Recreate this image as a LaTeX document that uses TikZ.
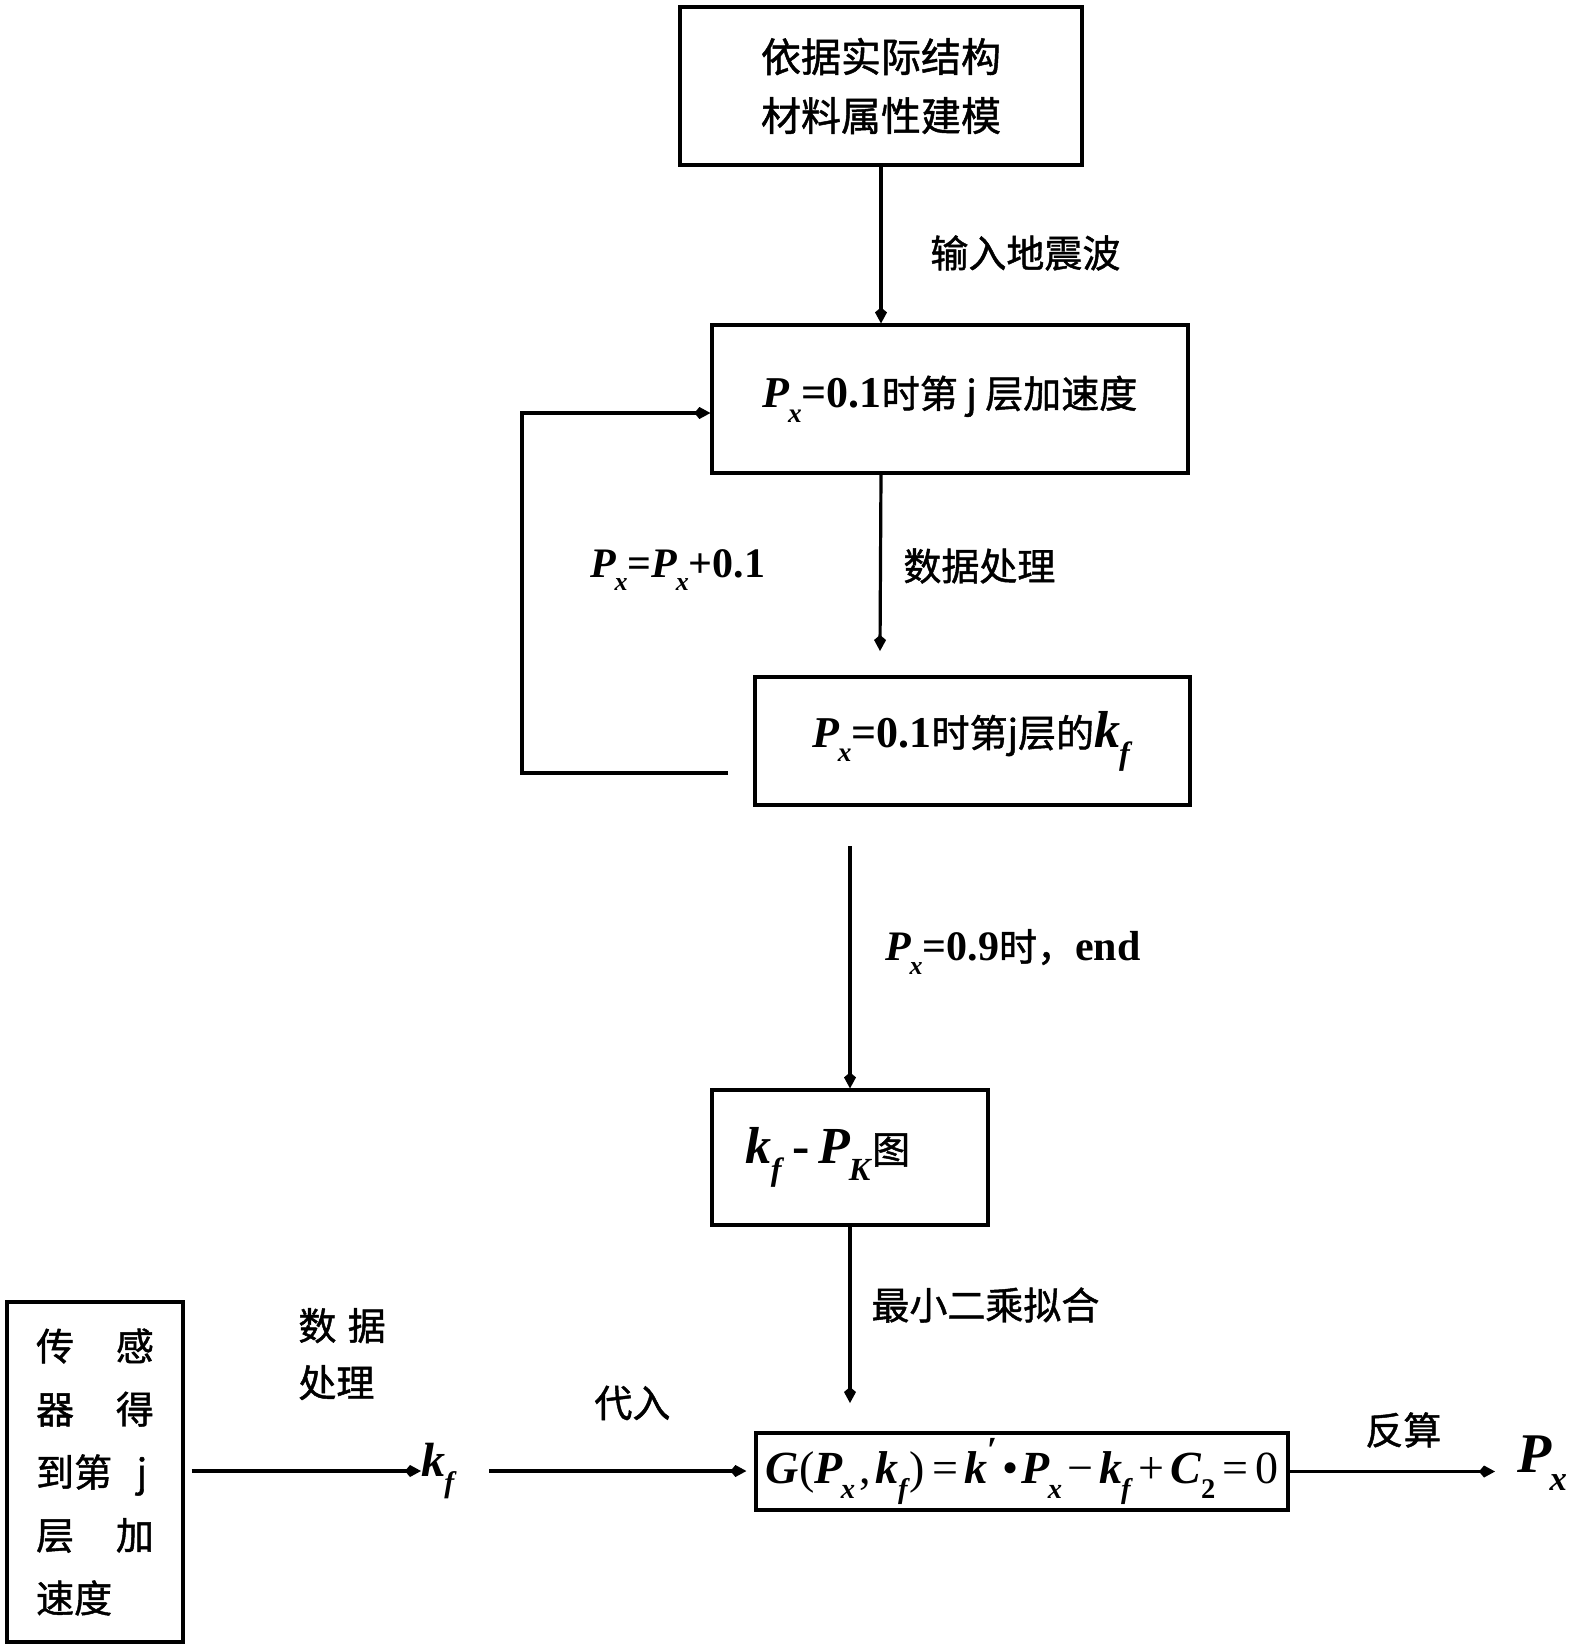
\documentclass[tikz,border=0pt]{standalone}
\usepackage{fontspec}
\setmainfont{Liberation Serif}
\newfontfamily\cjk{Noto Sans CJK SC}[FakeBold=1.2]
\usetikzlibrary{arrows.meta}
\newcommand\sbx[1]{\raisebox{-0.33em}{\scalebox{0.62}{\textbf{\textit{#1}}}}}
\newcommand\Pv[1]{{\rmfamily\textbf{\textit{P}}\kern-0.04em\sbx{#1}}}
\newcommand\kv{{\rmfamily\textbf{\textit{k}}\kern-0.02em\sbx{f}}}
\newcommand\bnum[1]{{\rmfamily\bfseries #1}}
\newcommand\fs[1]{\fontsize{#1}{#1}\selectfont}
\begin{document}
\begin{tikzpicture}[x=0.5pt,y=-0.5pt,
  every node/.style={font=\cjk\fs{19}},
  box/.style={draw, line width=1.6pt, inner sep=0pt, align=center},
  arr/.style={line width=1.6pt, -{Kite[length=8pt,width=6pt,inset=2.5pt]}},
  lbl/.style={anchor=west, inner sep=0pt}]
\useasboundingbox (0,0) rectangle (1571,1651);

% boxes
\node[box, minimum width=201pt, minimum height=79pt, font=\cjk\fontsize{20}{29.5}\selectfont] (b1) at (881,86) {依据实际结构\\材料属性建模};
\node[box, minimum width=238pt, minimum height=74pt] (b2) at (950,399)
  {{\fs{22}\Pv{x}\bnum{=0.1}}时第 j 层加速度};
\node[box, minimum width=217.5pt, minimum height=64pt] (b3) at (972.5,741)
  {{\fs{22}\Pv{x}\bnum{=0.1}}时第j层的{\fs{26}\kv}};
\node[box, minimum width=138pt, minimum height=67.5pt] (b4) at (850,1157.5)
  {\hspace*{-22pt}{\fs{26}\kv\,\bnum{-}\,\Pv{K}}图};
\node[box, minimum width=266pt, minimum height=38.5pt] (b5) at (1022,1471.5)
  {\rmfamily\fs{23}\textbf{\textit{G}}(\Pv{x}\kern0.1em,\kern0.1em\kv)\kern0.15em=\kern0.15em\textbf{\textit{k}}\raisebox{0.45em}{\scalebox{0.8}{\textbf{′}}}\kern0.1em•\kern0.05em\Pv{x}\kern0.12em−\kern0.12em\kv\kern0.12em+\kern0.12em\textbf{\textit{C}}\raisebox{-0.33em}{\scalebox{0.62}{\textbf{2}}}\kern0.15em=\kern0.15em0};
\node[box, minimum width=88pt, minimum height=170pt, align=left, font=\cjk\fontsize{19}{31.5}\selectfont] (bl) at (95,1472)
  {传\hspace{1.1em}感\\器\hspace{1.1em}得\\到第\hspace{0.65em}j\\层\hspace{1.1em}加\\速度};

% labels
\node[lbl] (l1) at (930,253) {输入地震波};
\node[lbl] (l2) at (903,566) {数据处理};
\node[lbl] (l3) at (590,570) {\fs{21}\Pv{x}\bnum{=}\Pv{x}\bnum{+0.1}};
\node[lbl] (l4) at (885,952) {{\fs{21}\Pv{x}\bnum{=0.9}}时，{\fs{21}\bnum{end}}};
\node[lbl] (l5) at (871,1305) {最小二乘拟合};
\node[lbl, align=left, font=\cjk\fontsize{19}{28.5}\selectfont] (l6) at (298,1354) {数\hspace{0.3em}据\\处理};
\node[lbl] (l7) at (594,1403) {代入};
\node[lbl] (l8) at (1365,1430) {反算};
\node[lbl] (kf) at (421,1471) {\fs{24}\kv};
\node[lbl] (px) at (1517,1463) {\fs{28}\Pv{x}};

% connectors
\coordinate (a2e) at (880,651);
\coordinate (fbS) at (728,773);
\coordinate (fbT) at (522,413);
\coordinate (a3s) at (850,846);
\coordinate (a4e) at (850,1403);
\coordinate (a5e) at (1495,1471.5);

\draw[arr] (b1.south) -- (b1.south |- b2.north);
\draw[arr] (b2.south -| b1.south) -- (a2e);
\draw[arr] (fbS) -| (fbT) -- (fbT -| b2.west);
\draw[arr] (a3s) -- (b4.north);
\draw[arr] (b4.south) -- (a4e);
\draw[arr] (b5.east) -- (a5e);
\draw[arr, shorten <=3.5pt] (bl.east |- kf.west) -- (kf.west);
\draw[arr, shorten <=16pt, shorten >=4pt] (kf.east) -- (kf.east -| b5.west);
\end{tikzpicture}
\end{document}
